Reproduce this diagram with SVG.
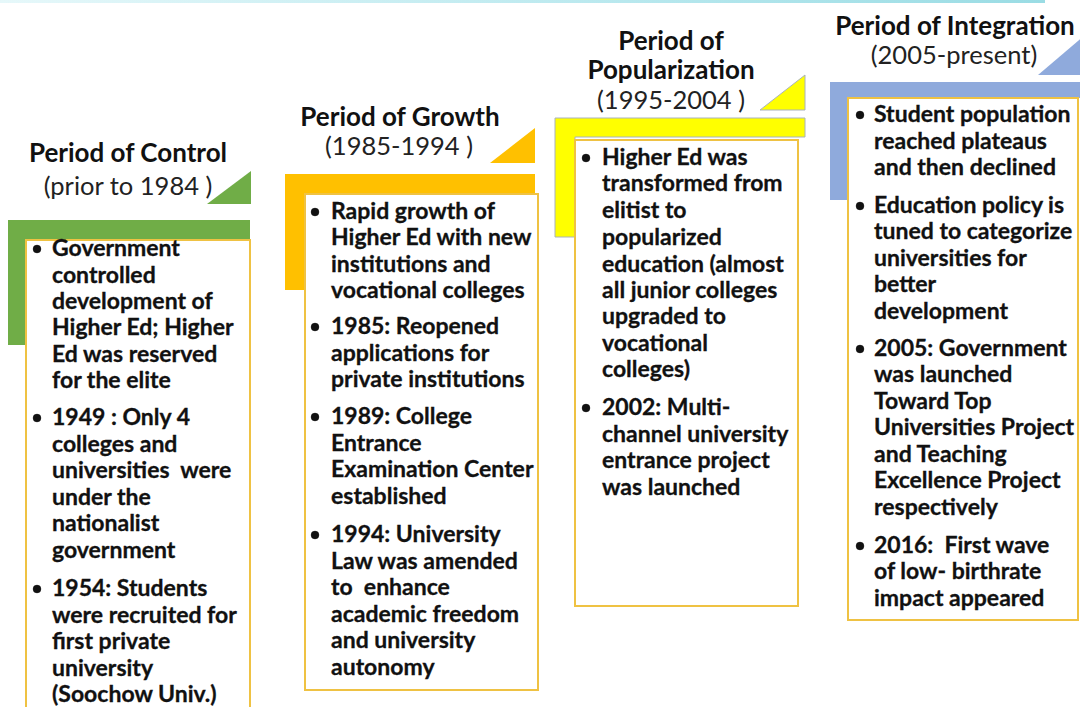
<svg xmlns="http://www.w3.org/2000/svg" width="1080" height="707" viewBox="0 0 1080 707">
<defs>
<linearGradient id="topg" x1="0" y1="0" x2="1" y2="0">
<stop offset="0" stop-color="#E6F8FA"/>
<stop offset="0.6" stop-color="#B8E8EE"/>
<stop offset="1" stop-color="#9ADCE4"/>
</linearGradient>
</defs>
<style>
.t{font-family:Lato,"Open Sans","Liberation Sans",sans-serif;font-weight:700;font-size:26px;fill:#111;text-anchor:middle}
.s{font-family:Lato,"Open Sans","Liberation Sans",sans-serif;font-weight:400;font-size:25.5px;fill:#222;text-anchor:middle}
.b{font-family:Lato,"Open Sans","Liberation Sans",sans-serif;font-weight:700;font-size:23px;fill:#111;stroke:#111;stroke-width:0.3}
.box{fill:#fff;stroke:#EFC243;stroke-width:2}
.dot{fill:#111}
</style>
<rect x="0" y="0" width="1080" height="707" fill="#fff"/>
<rect x="0" y="0" width="1045" height="3" fill="url(#topg)"/>

<g id="period-control">
<polygon points="207,204 251,204 251,171" fill="#70AD47"/>
<path d="M8,220 H250 V240 H30 V345 H8 Z" fill="#70AD47"/>
<rect class="box" x="26" y="240" width="224" height="480"/>
<text class="t" x="128" y="162">Period of Control</text>
<text class="s" x="128" y="195">(prior to 1984 )</text>
<g class="b">
<circle class="dot" cx="37" cy="249" r="4"/>
<text x="52" y="256">Government</text>
<text x="52" y="283">controlled</text>
<text x="52" y="309">development of</text>
<text x="52" y="335">Higher Ed; Higher</text>
<text x="52" y="362">Ed was reserved</text>
<text x="52" y="388">for the elite</text>
<circle class="dot" cx="37" cy="418" r="4"/>
<text x="52" y="425">1949 : Only 4</text>
<text x="52" y="452">colleges and</text>
<text x="52" y="478" xml:space="preserve">universities  were</text>
<text x="52" y="505">under the</text>
<text x="52" y="531">nationalist</text>
<text x="52" y="558">government</text>
<circle class="dot" cx="37" cy="589" r="4"/>
<text x="52" y="596">1954: Students</text>
<text x="52" y="623">were recruited for</text>
<text x="52" y="649">first private</text>
<text x="52" y="676">university</text>
<text x="52" y="702">(Soochow Univ.)</text>
</g>
</g>

<g id="period-growth">
<polygon points="490,163 535,163 535,128" fill="#FFC000"/>
<path d="M285,174 H535 V194 H305 V290 H285 Z" fill="#FFC000"/>
<rect class="box" x="305" y="194" width="233" height="496"/>
<text class="t" x="400" y="126">Period of Growth</text>
<text class="s" x="399" y="155">(1985-1994 )</text>
<g class="b">
<circle class="dot" cx="315" cy="212" r="4"/>
<text x="331" y="219">Rapid growth of</text>
<text x="331" y="245">Higher Ed with new</text>
<text x="331" y="272">institutions and</text>
<text x="331" y="298">vocational colleges</text>
<circle class="dot" cx="315" cy="327" r="4"/>
<text x="331" y="334">1985: Reopened</text>
<text x="331" y="361">applications for</text>
<text x="331" y="387">private institutions</text>
<circle class="dot" cx="315" cy="417" r="4"/>
<text x="331" y="424">1989: College</text>
<text x="331" y="451">Entrance</text>
<text x="331" y="477">Examination Center</text>
<text x="331" y="504">established</text>
<circle class="dot" cx="315" cy="535" r="4"/>
<text x="331" y="542">1994: University</text>
<text x="331" y="569">Law was amended</text>
<text x="331" y="595" xml:space="preserve">to  enhance</text>
<text x="331" y="622">academic freedom</text>
<text x="331" y="648">and university</text>
<text x="331" y="675">autonomy</text>
</g>
</g>

<g id="period-popularization">
<polygon points="760,110 805,110 805,75" fill="#FFFF00" stroke="#A9B2BC" stroke-width="1"/>
<path d="M555,118 H805 V137 H575 V237 H555 Z" fill="#FFFF00" stroke="#A9B2BC" stroke-width="1"/>
<rect class="box" x="575" y="140" width="223" height="466"/>
<text class="t" x="671" y="50">Period of</text>
<text class="t" x="671" y="79">Popularization</text>
<text class="s" x="671" y="109">(1995-2004 )</text>
<g class="b">
<circle class="dot" cx="586" cy="158" r="4"/>
<text x="602" y="165">Higher Ed was</text>
<text x="602" y="191">transformed from</text>
<text x="602" y="218">elitist to</text>
<text x="602" y="245">popularized</text>
<text x="602" y="272">education (almost</text>
<text x="602" y="298">all junior colleges</text>
<text x="602" y="324">upgraded to</text>
<text x="602" y="351">vocational</text>
<text x="602" y="377">colleges)</text>
<circle class="dot" cx="586" cy="408" r="4"/>
<text x="602" y="415">2002: Multi-</text>
<text x="602" y="442">channel university</text>
<text x="602" y="468">entrance project</text>
<text x="602" y="495">was launched</text>
</g>
</g>

<g id="period-integration">
<polygon points="1038,75 1085,75 1085,35" fill="#8FAADC"/>
<path d="M830,82 H1085 V98 H848 V200 H830 Z" fill="#8FAADC"/>
<rect class="box" x="848" y="98" width="230" height="522"/>
<text class="t" x="955" y="35">Period of Integration</text>
<text class="s" x="954" y="64">(2005-present)</text>
<g class="b">
<circle class="dot" cx="860" cy="115" r="4"/>
<text x="874" y="122">Student population</text>
<text x="874" y="149">reached plateaus</text>
<text x="874" y="175">and then declined</text>
<circle class="dot" cx="860" cy="206" r="4"/>
<text x="874" y="213">Education policy is</text>
<text x="874" y="239">tuned to categorize</text>
<text x="874" y="266">universities for</text>
<text x="874" y="292">better</text>
<text x="874" y="319">development</text>
<circle class="dot" cx="860" cy="349" r="4"/>
<text x="874" y="356">2005: Government</text>
<text x="874" y="382">was launched</text>
<text x="874" y="409">Toward Top</text>
<text x="874" y="435">Universities Project</text>
<text x="874" y="462">and Teaching</text>
<text x="874" y="488">Excellence Project</text>
<text x="874" y="515">respectively</text>
<circle class="dot" cx="860" cy="546" r="4"/>
<text x="874" y="553" xml:space="preserve">2016:  First wave</text>
<text x="874" y="579">of low- birthrate</text>
<text x="874" y="606">impact appeared</text>
</g>
</g>
</svg>
